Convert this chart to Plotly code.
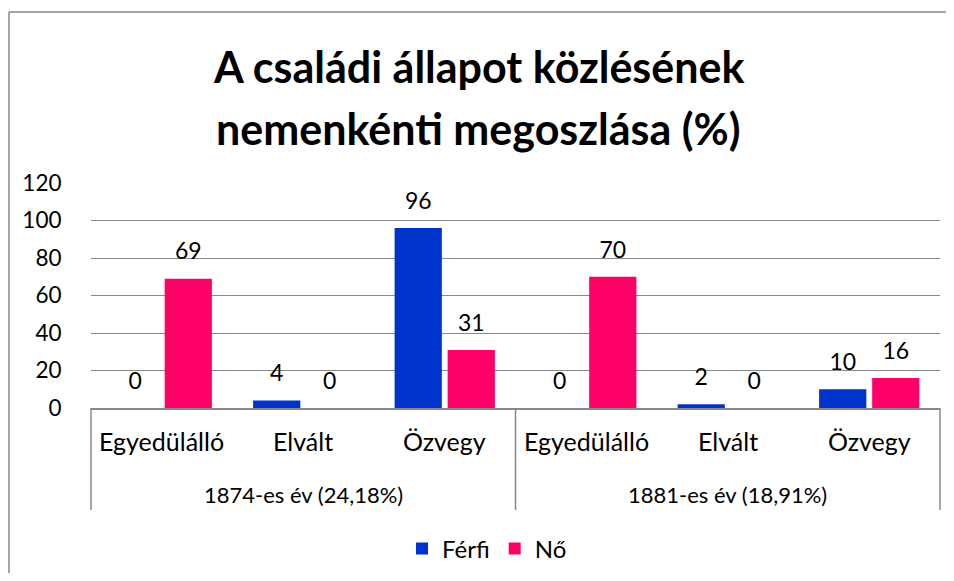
import plotly.graph_objects as go

years = ["1874-es év (24,18%)", "1874-es év (24,18%)", "1874-es év (24,18%)",
         "1881-es év (18,91%)", "1881-es év (18,91%)", "1881-es év (18,91%)"]
statuses = ["Egyedülálló", "Elvált", "Özvegy", "Egyedülálló", "Elvált", "Özvegy"]
ferfi = [0, 4, 96, 0, 2, 10]
no = [69, 0, 31, 70, 0, 16]
title_lines = ["A családi állapot közlésének", "nemenkénti megoszlása (%)"]
y_ticks = [0, 20, 40, 60, 80, 100, 120]

FONT = "Lato"
OFF = 8  # default page body margin
W, H = 954 - 2 * OFF, 581 - 2 * OFF
# plot area in page pixels: x 91..940, y 183..408
L, T = 91 - OFF, 183 - OFF
R = (W + OFF) - 940
B = (H + OFF) - 408
pw, ph = W - L - R, H - T - B
GRAY = "#888888"
BLUE = "#0033CC"
PINK = "#FF0066"

def px_x(x):  # page x -> paper
    return (x - OFF - L) / pw

def px_y(y):  # page y -> paper
    return (H - B - (y - OFF)) / ph

x_cats = [years, statuses]

fig = go.Figure()
fig.add_bar(x=x_cats, y=ferfi, name="Férfi", marker_color=BLUE, marker_line_width=0)
fig.add_bar(x=x_cats, y=no, name="Nő", marker_color=PINK, marker_line_width=0)
# data labels (aligned with the grouped bars through scattermode="group")
for vals in (ferfi, no):
    fig.add_scatter(x=x_cats, y=vals, mode="markers+text", text=[str(v) for v in vals],
                    textposition="top center", showlegend=False, hoverinfo="skip",
                    cliponaxis=False,
                    marker=dict(size=20, color="rgba(0,0,0,0)"),
                    textfont=dict(size=23, color="#000000", family=FONT))

# title
for i, line in enumerate(title_lines):
    fig.add_annotation(text="<b>%s</b>" % line, xref="paper", yref="paper",
                       x=px_x(478), y=px_y([66, 128][i]), showarrow=False,
                       xanchor="center", yanchor="middle",
                       font=dict(size=43, family=FONT, color="#000000"))

# category axis labels (two levels)
n = len(statuses)
for i, s in enumerate(statuses):
    fig.add_annotation(text=s, xref="paper", yref="paper", x=(i + 0.5) / n, y=px_y(441),
                       showarrow=False, xanchor="center", yanchor="middle",
                       font=dict(size=25, family=FONT, color="#000000"))
groups = []
for g in years:
    if g not in groups:
        groups.append(g)
for j, g in enumerate(groups):
    fig.add_annotation(text=g, xref="paper", yref="paper", x=(j + 0.5) / len(groups),
                       y=px_y(494), showarrow=False, xanchor="center", yanchor="middle",
                       font=dict(size=22, family=FONT, color="#000000"))
for j in range(len(groups) + 1):
    fig.add_shape(type="line", xref="paper", yref="paper", x0=j / len(groups), x1=j / len(groups),
                  y0=0, y1=px_y(510), line=dict(color=GRAY, width=1.5))

# outer chart border (only top and left edges are visible in the frame)
fig.add_shape(type="line", xref="paper", yref="paper",
              x0=px_x(9), x1=px_x(954 + 20), y0=px_y(12), y1=px_y(12),
              line=dict(color=GRAY, width=1.5), layer="below")
fig.add_shape(type="line", xref="paper", yref="paper",
              x0=px_x(9), x1=px_x(9), y0=px_y(12), y1=px_y(581 + 20),
              line=dict(color=GRAY, width=1.5), layer="below")

fig.update_layout(
    width=W, height=H,
    margin=dict(l=L, r=R, t=T, b=B, autoexpand=False),
    paper_bgcolor="white", plot_bgcolor="white",
    barmode="group", bargap=0.25, bargroupgap=0.11,
    scattermode="group", scattergap=0.25,
    font=dict(family=FONT, size=22, color="#000000"),
    showlegend=True,
    legend=dict(orientation="h", x=px_x(487), xanchor="center", y=px_y(549), yanchor="middle",
                font=dict(size=24, family=FONT), tracegroupgap=0, itemwidth=30),
    xaxis=dict(type="multicategory", showline=True, linecolor=GRAY, linewidth=1.5,
               showdividers=False, showticklabels=False, ticks=""),
    yaxis=dict(range=[0, 120], tickvals=y_ticks, showgrid=True, gridcolor=GRAY,
               gridwidth=1.2, zeroline=False, showline=False,
               tickfont=dict(size=22.5, family=FONT), ticks="outside", ticklen=24,
               tickcolor="rgba(0,0,0,0)"),
)

fig.write_html("out.html")
